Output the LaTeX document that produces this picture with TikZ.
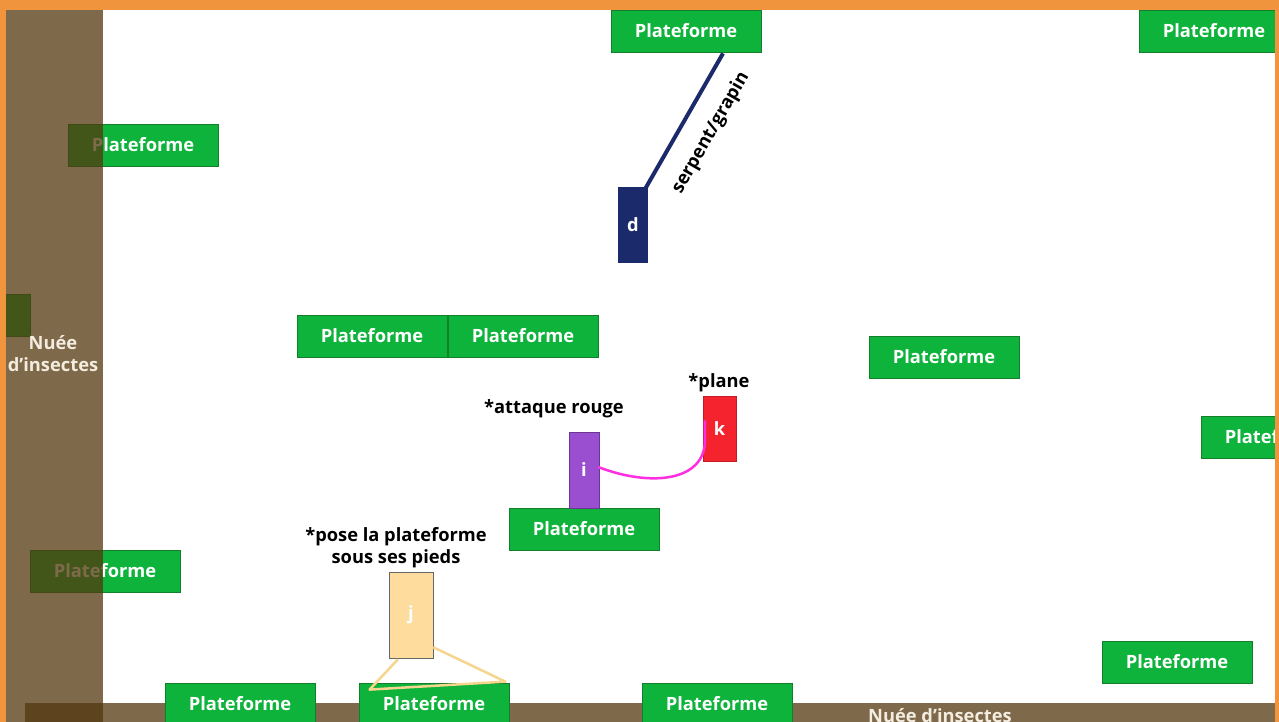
\documentclass[tikz,border=0pt]{standalone}
\usepackage{fontspec}
\setmainfont{Open Sans}
\usetikzlibrary{calc}
\definecolor{frame}{HTML}{F0953E}
\definecolor{swarm}{RGB}{84,56,15}
\definecolor{plat}{HTML}{0DB33A}
\definecolor{platb}{HTML}{137F2A}
\definecolor{navy}{HTML}{1B2A6B}
\definecolor{violet}{HTML}{9A4FD0}
\definecolor{redk}{HTML}{F4232E}
\definecolor{magent}{HTML}{FF2EE0}
\definecolor{cream}{HTML}{FDDC9D}
\definecolor{creamline}{HTML}{F6D68F}
\definecolor{swarmtext}{HTML}{F3ECDF}
\begin{document}
\begin{tikzpicture}[x=1pt,y=-1pt,
  lbl/.style={font=\bfseries\fontsize{18.3}{22}\selectfont},
  platbox/.style={rectangle,fill=plat,draw=platb,line width=0.8pt,minimum width=150pt,minimum height=42pt,inner sep=0pt,text=white,lbl},
  charbox/.style={rectangle,inner sep=0pt,text=white,lbl},
  note/.style={lbl,text=black,align=center},
  swarmband/.style={fill=swarm,fill opacity=0.75,draw=none},
  swarmlbl/.style={lbl,text=swarmtext,align=center}]
\useasboundingbox (0,0) rectangle (1279,722);
\fill[white] (0,0) rectangle (1279,722);
% bottom swarm band
\fill[swarmband] (25,703) rectangle (1279,722);
% platforms
\node[platbox] (p1) at (686,31) {Plateforme};
\node[platbox] (p2) at (1214,31) {Plateforme};
\node[platbox] (p3) at (143,145) {Plateforme};
\node[platbox] (p4) at (372,336) {Plateforme};
\node[platbox] (p5) at (523,336) {Plateforme};
\node[platbox] (p6) at (944,357) {Plateforme};
\node[platbox] (p7) at (1276,437) {Plateforme};
\node[platbox] (p8) at (584,529) {Plateforme};
\node[platbox] (p9) at (105,571) {Plateforme};
\node[platbox] (p10) at (1177,662) {Plateforme};
\node[platbox] (p11) at (240,704) {Plateforme};
\node[platbox] (p12) at (434,704) {Plateforme};
\node[platbox] (p13) at (717,704) {Plateforme};
\node[platbox] (p14) at (-45,315) {};
% characters
\node[charbox,fill=navy,minimum width=30pt,minimum height=76pt] (d) at (633,225) {d};
\node[charbox,fill=violet,draw=violet!70!black,line width=0.5pt,minimum width=30pt,minimum height=76pt] (i) at (584,470) {i};
\node[charbox,fill=redk,draw=redk!80!black,line width=0.5pt,minimum width=33pt,minimum height=65pt] (k) at (719.5,428.5) {k};
\node[charbox,fill=cream,draw=gray!80!black,line width=0.5pt,minimum width=44pt,minimum height=86pt] (j) at (411,615) {j};
% grapple
\coordinate (dtop) at ($(d.north east)+(-3,2)$);
\coordinate (hook) at ($(p1.south)+(37,1)$);
\draw[navy,line width=4pt] (dtop) -- (hook)
  node[pos=0.52,sloped,anchor=north,inner sep=0pt,outer sep=20pt,lbl,text=black] (grap) {serpent/grapin};
% attack link
\coordinate (istart) at ($(i.east)+(-1,-3)$);
\coordinate (kend) at ($(k.west)+(2,-8)$);
\draw[magent,line width=2.5pt] (istart) .. controls (650,487) and (705,482) .. (705,440) -- (kend);
% platform under feet
\coordinate (jl) at ($(j.south)+(-13,1)$);
\coordinate (jr) at ($(j.south east)+(0,-11)$);
\coordinate (fl) at ($(p12.north west)+(11,7)$);
\coordinate (fr) at ($(p12.north east)+(-4,-1)$);
\draw[creamline,line width=2.5pt,line join=round] (jl) -- (fl) -- (fr) -- (jr);
% notes
\node[note] (n1) at (554,409) {*attaque rouge};
\node[note] (n2) at (719,383) {*plane};
\node[note] (n3) at (396,548) {*pose la plateforme\\sous ses pieds};
% left swarm band
\fill[swarmband] (6,0) rectangle (103,722);
\node[swarmlbl] (s1) at (53,354) {Nuée\\d’insectes};
\node[swarmlbl] (s2) at (940,716) {Nuée d’insectes};
% frame
\fill[frame] (0,0) rectangle (1279,10);
\fill[frame] (0,0) rectangle (6,722);
\fill[frame] (1275,0) rectangle (1279,722);
\end{tikzpicture}
\end{document}
